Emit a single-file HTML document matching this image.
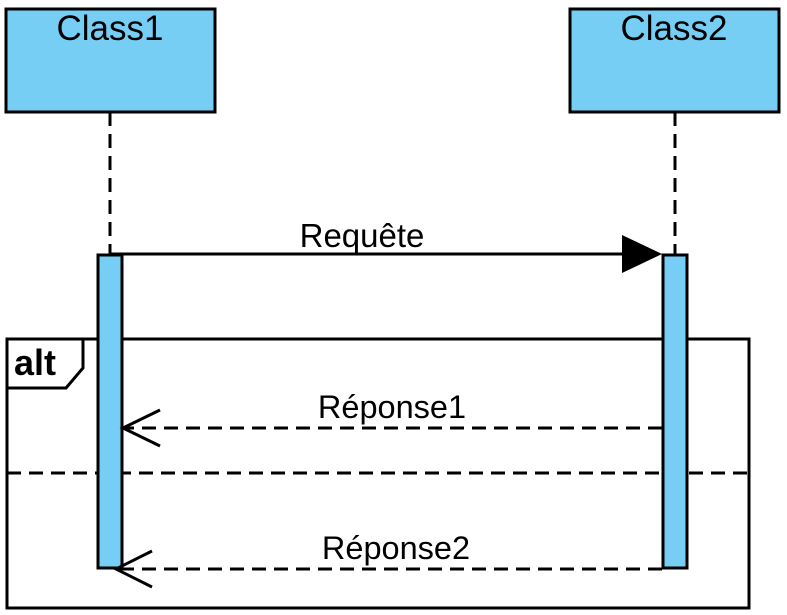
<!DOCTYPE html>
<html><head><meta charset="utf-8"><style>body{margin:0;background:#fff}svg{display:block}</style></head>
<body>
<svg width="787" height="615" viewBox="0 0 787 615" xmlns="http://www.w3.org/2000/svg" font-family="Liberation Sans, sans-serif">
<rect x="6" y="9" width="209" height="103" fill="#77cef4" stroke="#000" stroke-width="3"/>
<rect x="570" y="9" width="209" height="103" fill="#77cef4" stroke="#000" stroke-width="3"/>
<text x="110" y="40" font-size="35" text-anchor="middle">Class1</text>
<text x="674" y="40" font-size="35" text-anchor="middle">Class2</text>
<line x1="110" y1="112" x2="110" y2="255" stroke="#000" stroke-width="3" stroke-dasharray="14,8"/>
<line x1="675" y1="112" x2="675" y2="255" stroke="#000" stroke-width="3" stroke-dasharray="14,8"/>
<rect x="7" y="339" width="742" height="269" fill="none" stroke="#000" stroke-width="3"/>
<path d="M7 388 H66 L83 368 V339" fill="none" stroke="#000" stroke-width="3"/>
<text x="14" y="375" font-size="36" font-weight="bold">alt</text>
<line x1="7" y1="473" x2="749" y2="473" stroke="#000" stroke-width="3" stroke-dasharray="14,8"/>
<rect x="98" y="255" width="24" height="313" fill="#77cef4" stroke="#000" stroke-width="3"/>
<rect x="663" y="255" width="24" height="313" fill="#77cef4" stroke="#000" stroke-width="3"/>
<line x1="110" y1="254" x2="625" y2="254" stroke="#000" stroke-width="3"/>
<polygon points="622,235 662,254 622,273" fill="#000"/>
<text x="362" y="247" font-size="33" text-anchor="middle">Requête</text>
<line x1="662" y1="428" x2="124" y2="428" stroke="#000" stroke-width="3" stroke-dasharray="14,8"/>
<path d="M160 410 L123 428 L160 446" fill="none" stroke="#000" stroke-width="3"/>
<text x="392" y="418" font-size="32.5" text-anchor="middle">Réponse1</text>
<line x1="662" y1="569" x2="117" y2="569" stroke="#000" stroke-width="3" stroke-dasharray="14,8"/>
<path d="M152 551 L116 569 L152 587" fill="none" stroke="#000" stroke-width="3"/>
<text x="396" y="559" font-size="32.5" text-anchor="middle">Réponse2</text>
</svg>
</body></html>
